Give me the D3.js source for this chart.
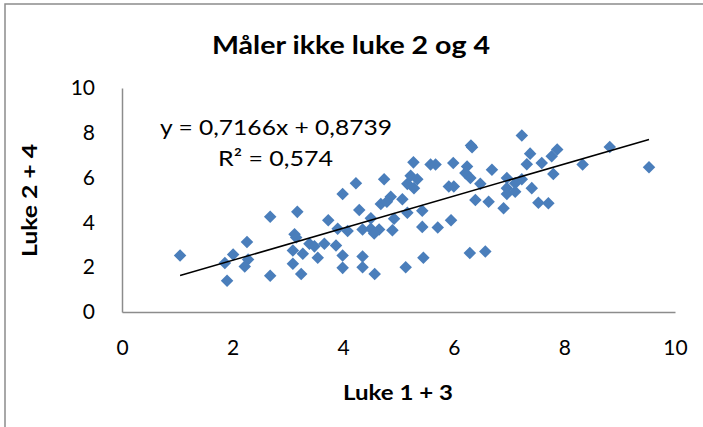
<!DOCTYPE html>
<html>
<head>
<meta charset="utf-8">
<title>Måler ikke luke 2 og 4</title>
<script src="https://d3js.org/d3.v7.min.js"></script>
<style>
  body { margin: 0; background: #fff; }
  text { font-family: Lato, "Open Sans", sans-serif; fill: #000; }
  .axis path { stroke: #8c8c8c; stroke-width: 1.5px; }
  .axis text { font-size: 21px; }
</style>
</head>
<body>
<script>
// values (Luke 1 + 3 vs Luke 2 + 4)
var luke13 = [1.05, 2.68, 2.26, 2.01, 1.86, 2.28, 2.22, 1.90, 2.68, 4.23,
              3.99, 4.29, 3.17, 3.73, 3.90, 4.08, 4.35, 3.12, 3.15, 3.39,
              3.48, 3.66, 3.87, 3.09, 3.27, 3.54, 3.99, 4.35, 3.09, 3.24,
              3.99, 4.35, 5.27, 5.58, 5.67, 5.99, 4.74, 5.22, 5.34, 5.16,
              5.28, 5.91, 6.00, 4.86, 5.07, 4.68, 4.79, 5.16, 5.43, 4.92,
              4.50, 5.43, 5.71, 5.95, 4.50, 4.65, 4.56, 4.89, 5.45, 5.13,
              4.57, 7.23, 6.31, 7.38, 7.59, 6.24, 6.69, 6.21, 6.30, 7.32,
              6.96, 7.23, 6.48, 7.11, 6.96, 7.41, 6.39, 6.63, 6.96, 7.11,
              6.90, 7.53, 6.29, 6.57, 7.87, 7.77, 8.82, 9.53, 8.33, 7.80,
              7.71, 6.33];
var luke24 = [2.52, 4.25, 3.12, 2.57, 2.19, 2.34, 2.03, 1.40, 1.62, 5.75,
              5.27, 4.55, 4.47, 4.10, 3.72, 3.62, 3.68, 3.47, 3.33, 3.05,
              2.93, 3.05, 2.97, 2.75, 2.60, 2.42, 2.52, 2.48, 2.15, 1.70,
              1.97, 2.00, 6.68, 6.58, 6.58, 6.65, 5.93, 6.08, 5.93, 5.72,
              5.53, 5.60, 5.60, 5.15, 5.03, 4.82, 4.92, 4.43, 4.52, 4.16,
              4.18, 3.80, 3.77, 4.10, 3.72, 3.68, 3.50, 3.65, 2.42, 2.00,
              1.70, 7.88, 7.43, 7.07, 6.65, 6.50, 6.35, 6.20, 5.98, 6.60,
              5.98, 5.93, 5.72, 5.75, 5.53, 5.53, 5.00, 4.92, 5.27, 5.37,
              4.63, 4.88, 2.63, 2.70, 7.25, 6.95, 7.37, 6.46, 6.58, 6.16,
              4.85, 7.35];
var xTicks = [0, 2, 4, 6, 8, 10];
var yTicks = [0, 2, 4, 6, 8, 10];
var slope = 0.7166, intercept = 0.8739;
var equationText = "y = 0,7166x + 0,8739";
var r2Text = "R² = 0,574";

var W = 703, H = 427;
var margin = {top: 88, right: 28, bottom: 115, left: 122};
var width = W - margin.left - margin.right,
    height = H - margin.top - margin.bottom;

var svg = d3.select("body").append("svg")
    .attr("width", W)
    .attr("height", H);

// outer chart frame
svg.append("rect")
    .attr("x", 5).attr("y", 4)
    .attr("width", W + 10).attr("height", H + 10)
    .attr("fill", "#fff")
    .attr("stroke", "#8c8c8c")
    .attr("stroke-width", 1.5);

var g = svg.append("g")
    .attr("transform", "translate(" + margin.left + "," + margin.top + ")");

var x = d3.scaleLinear().domain([0, 10]).range([0, width]);
var y = d3.scaleLinear().domain([0, 10]).range([height, 0]);

// axes, no tick marks
g.append("g")
    .attr("class", "axis")
    .attr("transform", "translate(0," + height + ")")
    .call(d3.axisBottom(x).tickValues(xTicks).tickSize(0).tickPadding(28));

g.append("g")
    .attr("class", "axis")
    .call(d3.axisLeft(y).tickValues(yTicks).tickSize(0).tickPadding(27));

// data points as diamonds
var data = luke13.map(function(d, i) { return {x: d, y: luke24[i]}; });
var diamond = d3.symbol().type(d3.symbolDiamond2).size(100);

g.selectAll(".pt")
    .data(data)
  .enter().append("path")
    .attr("class", "pt")
    .attr("d", diamond)
    .attr("transform", function(d) { return "translate(" + x(d.x) + "," + y(d.y) + ")"; })
    .attr("fill", "#4a7ebb");

// linear trendline over the data range
var xr = d3.extent(luke13);
g.append("line")
    .attr("x1", x(xr[0])).attr("y1", y(slope * xr[0] + intercept))
    .attr("x2", x(xr[1])).attr("y2", y(slope * xr[1] + intercept))
    .attr("stroke", "#000")
    .attr("stroke-width", 1.5);

// equation labels
svg.append("text")
    .attr("x", 160).attr("y", 135)
    .attr("textLength", 232).attr("lengthAdjust", "spacingAndGlyphs")
    .style("font-size", "22px")
    .text(equationText);
svg.append("text")
    .attr("x", 218).attr("y", 166)
    .attr("textLength", 115).attr("lengthAdjust", "spacingAndGlyphs")
    .style("font-size", "22px")
    .text(r2Text);

// title and axis titles
svg.append("text")
    .attr("x", 212).attr("y", 54)
    .attr("textLength", 278).attr("lengthAdjust", "spacingAndGlyphs")
    .style("font-size", "25px")
    .style("font-weight", "bold")
    .text("Måler ikke luke 2 og 4");

svg.append("text")
    .attr("x", 343).attr("y", 400)
    .attr("textLength", 110).attr("lengthAdjust", "spacingAndGlyphs")
    .style("font-size", "20px")
    .style("font-weight", "bold")
    .text("Luke 1 + 3");

svg.append("text")
    .attr("transform", "translate(37,257) rotate(-90)")
    .attr("textLength", 113).attr("lengthAdjust", "spacingAndGlyphs")
    .style("font-size", "20px")
    .style("font-weight", "bold")
    .text("Luke 2 + 4");
</script>
</body>
</html>
